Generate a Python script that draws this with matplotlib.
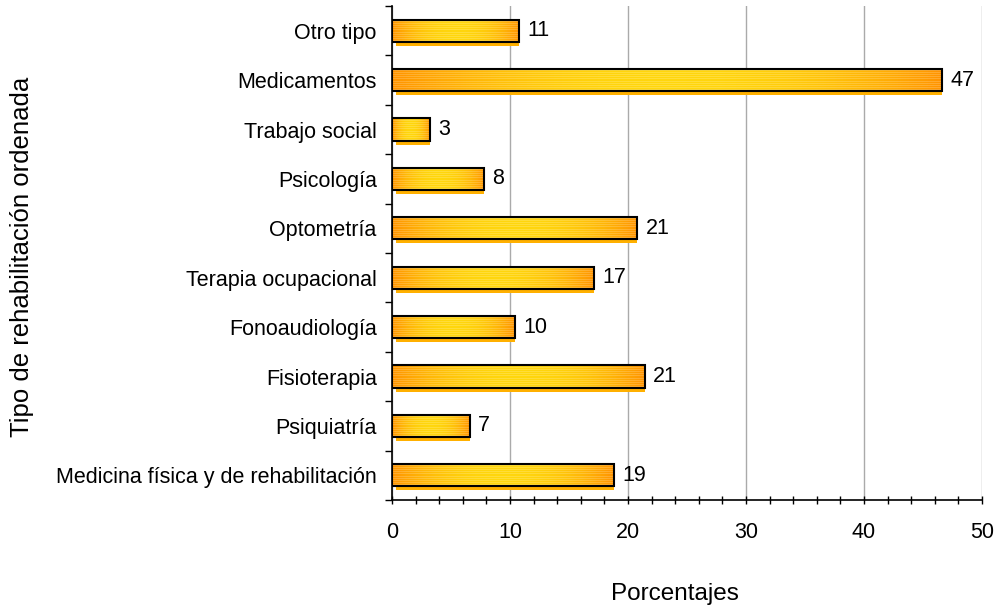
"""Horizontal bar chart: tipo de rehabilitacion ordenada (porcentajes)."""

import matplotlib
matplotlib.use('Agg')
import matplotlib.pyplot as plt
from matplotlib.patches import Rectangle
import numpy as np

# Data (top to bottom as displayed) ------------------------------------------

categorias = ['Otro tipo', 'Medicamentos', 'Trabajo social', 'Psicología',
              'Optometría', 'Terapia ocupacional', 'Fonoaudiología',
              'Fisioterapia', 'Psiquiatría',
              'Medicina física y de rehabilitación']
porcentajes = [10.8, 46.6, 3.2, 7.8, 20.8, 17.1, 10.4, 21.4, 6.6, 18.8]
etiquetas = ['11', '47', '3', '8', '21', '17', '10', '21', '7', '19']
xticks = [0, 10, 20, 30, 40, 50]

plt.rcParams['font.family'] = ['Liberation Sans', 'DejaVu Sans']

ORANGE = np.array([1.0, 0.58, 0.0])
YELLOW = np.array([1.0, 0.84, 0.05])


def gradient_image(ncols=200, nrows=22):
    """Orange-yellow fill with thin light horizontal stripes."""
    t = np.linspace(0, 1, ncols)
    mix = np.abs(2 * t - 1) ** 2.2          # orange at both ends
    row = YELLOW[None, :] + (ORANGE - YELLOW)[None, :] * mix[:, None]
    img = np.repeat(row[None, :, :], nrows, axis=0)
    img[::2] = img[::2] * 0.82 + 0.18        # light stripes
    return np.clip(img, 0, 1)


fig = plt.figure(figsize=(9.95, 6.1), dpi=100)
ax = fig.add_axes([392 / 995, 1 - 500 / 610, 590 / 995, 494 / 610])

n = len(categorias)
pos = np.arange(n)
h = 0.45
img = gradient_image()

for y, v, lab in zip(pos, porcentajes, etiquetas):
    # shadow under the bar
    ax.add_patch(Rectangle((0.3, y - h / 2 + 0.08), v - 0.3, h,
                           facecolor='#FFB000', edgecolor='none', zorder=2))
    im = ax.imshow(img, extent=(0, v, y + h / 2, y - h / 2), aspect='auto',
                   interpolation='nearest', zorder=3)
    rect = Rectangle((0, y - h / 2), v, h, facecolor='none',
                     edgecolor='black', linewidth=1.5, zorder=4)
    ax.add_patch(rect)
    im.set_clip_path(rect)
    ax.text(v + 0.7, y, lab, va='center', ha='left', fontsize=15.5, zorder=5)

ax.set_xlim(0, 50)
ax.set_ylim(n - 0.5, -0.5)

# x axis: major + minor ticks crossing the axis
ax.set_xticks(xticks)
ax.set_xticks(np.arange(0, 51, 2), minor=True)
ax.tick_params(axis='x', which='both', direction='inout', length=6,
               width=1, labelsize=15.5, pad=13)
ax.xaxis.grid(True, which='major', color='#AAAAAA', linewidth=1)
ax.set_axisbelow(True)

# y axis: tick marks at category boundaries, labels at centres
ax.set_yticks(np.arange(-0.5, n, 1))
ax.set_yticklabels([])
ax.set_yticks(pos, minor=True)
ax.set_yticklabels(categorias, minor=True)
ax.tick_params(axis='y', which='major', direction='out', length=5, width=1)
ax.tick_params(axis='y', which='minor', length=0, labelsize=15.5, pad=11)

for side in ['top', 'right']:
    ax.spines[side].set_visible(False)
for side in ['left', 'bottom']:
    ax.spines[side].set_linewidth(1.2)

fig.text(675 / 995, 1 - 594 / 610, 'Porcentajes', ha='center', va='center',
         fontsize=17.5)
fig.text(22 / 995, 1 - 257 / 610, 'Tipo de rehabilitación ordenada',
         rotation=90, ha='center', va='center', fontsize=18.5)

fig.savefig('out.png', dpi=100, facecolor='white')
